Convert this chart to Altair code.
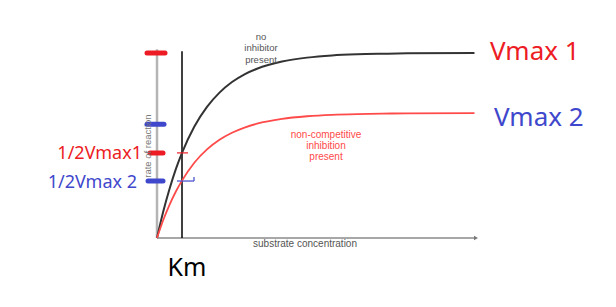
import altair as alt
import pandas as pd

# ---- data ----
substrate = [0, 0.25, 0.5, 0.75, 1, 1.5, 2, 2.5, 3, 3.5, 4, 5, 6, 7, 8, 9, 10, 12.7]
rate_no_inhibitor = [0, 1.43, 2.65, 3.71, 4.6, 6.04, 7.09, 7.86, 8.43, 8.85, 9.15, 9.54, 9.75, 9.87, 9.93, 9.96, 9.98, 10]
rate_noncompetitive = [0, 0.97, 1.79, 2.5, 3.1, 4.08, 4.79, 5.31, 5.69, 5.97, 6.18, 6.44, 6.58, 6.66, 6.7, 6.72, 6.74, 6.75]

km = 1.0
vmax1 = 10.0
vmax2 = 6.75
vmax2_mark = 6.15
half_vmax1 = 4.6
half_vmax2 = 3.08
x_axis_end = 12.76
y_axis_top = 10.2
km_line_top = 10.1

RED = "#ed1c24"
BLUE = "#3f48cc"

xs = alt.Scale(domain=[-6.28, 18.36], nice=False, zero=False)
ys = alt.Scale(domain=[-3.73, 12.865], nice=False, zero=False)


def X(f):
    return alt.X(f, type="quantitative", scale=xs, axis=None)


def Y(f):
    return alt.Y(f, type="quantitative", scale=ys, axis=None)


curves = pd.DataFrame({"s": substrate, "v1": rate_no_inhibitor, "v2": rate_noncompetitive})

black_curve = alt.Chart(curves).mark_line(color="#333333", strokeWidth=2, interpolate="monotone").encode(
    x=X("s"), y=Y("v1"))
red_curve = alt.Chart(curves).mark_line(color="#ff4a4a", strokeWidth=1.8, interpolate="monotone").encode(
    x=X("s"), y=Y("v2"))

# axis lines
y_axis = alt.Chart(pd.DataFrame({"x": [0], "y": [0], "y2": [y_axis_top]})).mark_rule(
    color="#b4b4b4", strokeWidth=2.5).encode(x=X("x"), y=Y("y"), y2="y2")
x_axis = alt.Chart(pd.DataFrame({"x": [0], "x2": [x_axis_end], "y": [0]})).mark_rule(
    color="#8a8a8a", strokeWidth=1.5).encode(x=X("x"), x2="x2", y=Y("y"))
arrow = alt.Chart(pd.DataFrame({"x": [x_axis_end], "y": [0]})).mark_point(
    shape="triangle-right", filled=True, size=22, color="#777777", opacity=1).encode(x=X("x"), y=Y("y"))
km_line = alt.Chart(pd.DataFrame({"x": [km], "y": [0], "y2": [km_line_top]})).mark_rule(
    color="#000000", strokeWidth=1.5).encode(x=X("x"), y=Y("y"), y2="y2")

# thick markers on the y axis
dashes = pd.DataFrame({
    "x": [-0.4, -0.28, -0.4, -0.36],
    "x2": [0.32, 0.24, 0.28, 0.24],
    "y": [vmax1, half_vmax1, vmax2_mark, half_vmax2],
    "c": [RED, RED, BLUE, BLUE],
})
dash_layer = alt.Chart(dashes).mark_rule(strokeWidth=5, strokeCap="round").encode(
    x=X("x"), x2="x2", y=Y("y"), color=alt.Color("c:N", scale=None))

# small ticks at Km
ticks = pd.DataFrame({
    "x": [0.8, 0.8],
    "x2": [1.24, 1.48],
    "y": [half_vmax1, half_vmax2],
    "c": [RED, BLUE],
})
tick_layer = alt.Chart(ticks).mark_rule(strokeWidth=1.2).encode(
    x=X("x"), x2="x2", y=Y("y"), color=alt.Color("c:N", scale=None))
vtick = alt.Chart(pd.DataFrame({"x": [1.48], "y": [half_vmax2], "y2": [3.3]})).mark_rule(
    strokeWidth=1.2, color=BLUE).encode(x=X("x"), y=Y("y"), y2="y2")

# big labels
big = pd.DataFrame({
    "x": [13.32, 13.48],
    "y": [10.05, 6.49],
    "t": ["Vmax 1", "Vmax 2"],
    "c": [RED, BLUE],
})
big_text = alt.Chart(big).mark_text(align="left", baseline="middle", fontSize=26, font="Noto Sans").encode(
    x=X("x"), y=Y("y"), text="t:N", color=alt.Color("c:N", scale=None))

half = pd.DataFrame({
    "x": [-0.6, -0.8],
    "y": [4.55, 2.97],
    "t": ["1/2Vmax1", "1/2Vmax 2"],
    "c": [RED, BLUE],
})
half_text = alt.Chart(half).mark_text(align="right", baseline="middle", fontSize=18, font="Noto Sans").encode(
    x=X("x"), y=Y("y"), text="t:N", color=alt.Color("c:N", scale=None))

km_text = alt.Chart(pd.DataFrame({"x": [1.2], "y": [-1.62], "t": ["Km"]})).mark_text(
    align="center", baseline="middle", fontSize=25, font="Noto Sans", color="#000000").encode(
    x=X("x"), y=Y("y"), text="t:N")

# small annotation texts
no_inh = pd.DataFrame({"x": [4.16, 4.16, 4.16], "y": [10.86, 10.27, 9.64], "t": ["no", "inhibitor", "present"]})
no_inh_text = alt.Chart(no_inh).mark_text(align="center", baseline="middle", fontSize=9.5,
                                          font="Liberation Sans", color="#555555").encode(
    x=X("x"), y=Y("y"), text="t:N")

nc = pd.DataFrame({"x": [6.76, 6.76, 6.76], "y": [5.57, 4.97, 4.38],
                   "t": ["non-competitive", "inhibition", "present"]})
nc_text = alt.Chart(nc).mark_text(align="center", baseline="middle", fontSize=10,
                                  font="Liberation Sans", color="#ff4a4a").encode(
    x=X("x"), y=Y("y"), text="t:N")

xlab = alt.Chart(pd.DataFrame({"x": [5.92], "y": [-0.32], "t": ["substrate concentration"]})).mark_text(
    align="center", baseline="middle", fontSize=10, font="Liberation Sans", color="#555555").encode(
    x=X("x"), y=Y("y"), text="t:N")
ylab = alt.Chart(pd.DataFrame({"x": [-0.38], "y": [4.97], "t": ["rate of reaction"]})).mark_text(
    align="center", baseline="middle", fontSize=9.5, font="Liberation Sans", color="#777777", angle=270).encode(
    x=X("x"), y=Y("y"), text="t:N")

chart = alt.layer(
    y_axis, x_axis, arrow, km_line, black_curve, red_curve, dash_layer, tick_layer, vtick,
    big_text, half_text, km_text, no_inh_text, nc_text, xlab, ylab,
).properties(
    width=616, height=307, autosize=alt.AutoSizeParams(type="none"), padding=0, background="white"
).configure_view(stroke=None)

chart.save("out.html", embed_options={"renderer": "svg", "actions": False})
